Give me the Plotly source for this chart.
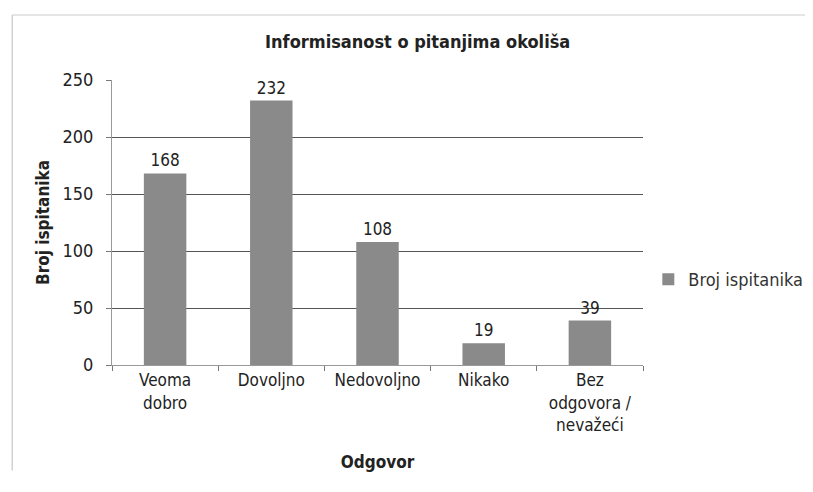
import plotly.graph_objects as go

categories = ["Veoma<br>dobro", "Dovoljno", "Nedovoljno", "Nikako", "Bez<br>odgovora /<br>nevažeći"]
values = [168, 232, 108, 19, 39]
series_name = "Broj ispitanika"
y_ticks = [0, 50, 100, 150, 200, 250]

FONT = "DejaVu Sans Condensed, Liberation Sans Narrow, Arial Narrow, sans-serif"

fig = go.Figure()
fig.add_trace(go.Bar(
    x=categories, y=values, name=series_name,
    marker=dict(color="#8a8a8a", line=dict(width=0)),
    text=[str(v) for v in values], textposition="outside",
    textfont=dict(size=17, color="#222", family=FONT),
    cliponaxis=False, showlegend=True,
))

fig.update_layout(
    width=797, height=476,
    paper_bgcolor="white", plot_bgcolor="white",
    margin=dict(l=104, r=162, t=72, b=119, autoexpand=False),
    bargap=0.6,
    title=dict(text="<b>Informisanost o pitanjima okoliša</b>", x=0.514, xanchor="center",
               y=0.93, yanchor="middle", font=dict(size=18, color="#222", family=FONT)),
    font=dict(family=FONT, color="#222"),
    legend=dict(x=1.01, y=0.30, xanchor="left", yanchor="middle",
                font=dict(size=18, color="#333", family=FONT), itemwidth=30),
    xaxis=dict(showline=True, linecolor="#999", linewidth=1,
               ticks="outside", tickson="boundaries", ticklen=5, tickcolor="#777",
               tickfont=dict(size=17, color="#222", family=FONT),
               title=dict(text="<b>Odgovor</b>", font=dict(size=17, family=FONT), standoff=22)),
    yaxis=dict(range=[0, 250], tickvals=y_ticks, showline=True, linecolor="#999", linewidth=1,
               ticks="outside", ticklen=5, tickcolor="#777", ticklabelstandoff=9,
               showgrid=True, gridcolor="#555", gridwidth=1,
               tickfont=dict(size=18, color="#222", family=FONT),
               title=dict(text="<b>Broj ispitanika</b>", font=dict(size=17, family=FONT), standoff=8)),
    shapes=[
        dict(type="line", xref="paper", yref="paper", x0=-0.188, x1=-0.188, y0=-0.37, y1=1.228,
             line=dict(color="#bbb", width=1)),
        dict(type="line", xref="paper", yref="paper", x0=-0.188, x1=1.32, y0=1.228, y1=1.228,
             line=dict(color="#ccc", width=1)),
    ],
)

fig.write_html("out.html")
